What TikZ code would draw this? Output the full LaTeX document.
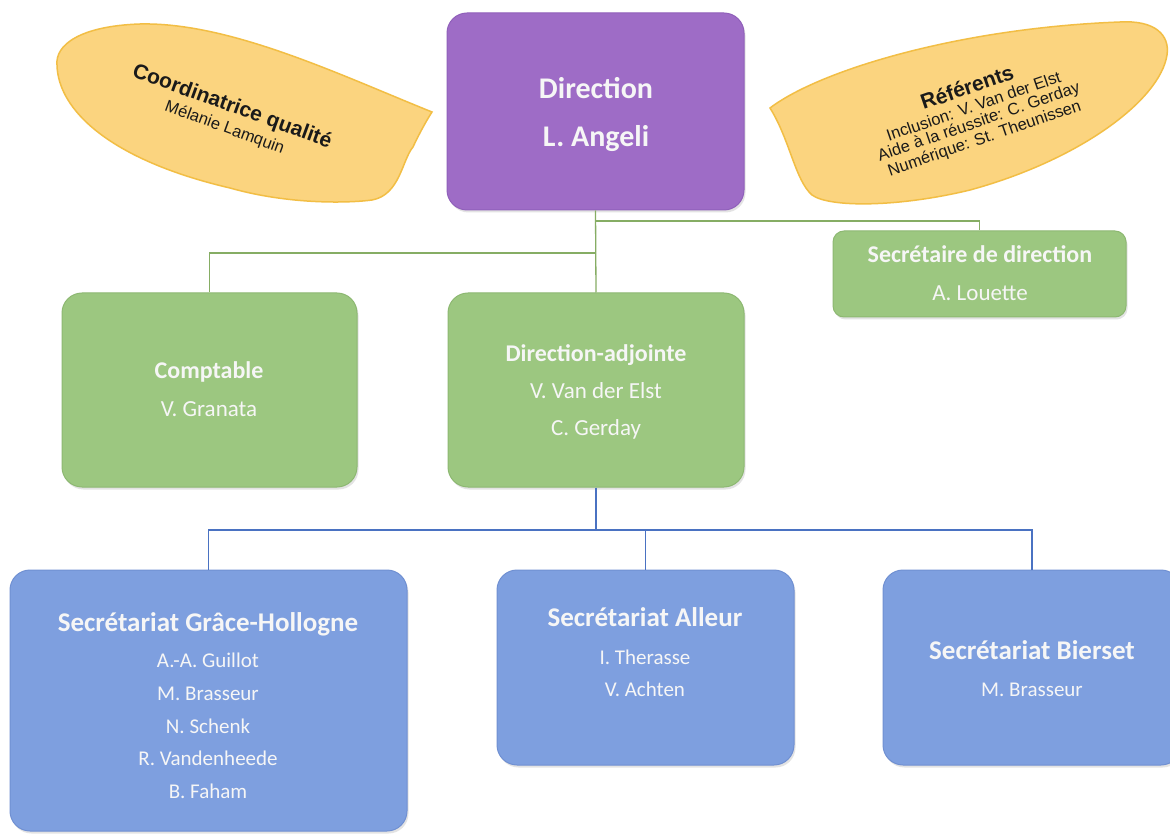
\documentclass[tikz,border=0pt]{standalone}
\usepackage{fontspec}
\setmainfont{Carlito}
\newfontfamily\arialf{Liberation Sans}
\usetikzlibrary{shadows,calc}
\definecolor{purpleF}{HTML}{9E6CC6}
\definecolor{purpleD}{HTML}{9060BA}
\definecolor{greenF}{HTML}{9CC780}
\definecolor{greenD}{HTML}{8DB872}
\definecolor{blueF}{HTML}{7E9FDF}
\definecolor{blueD}{HTML}{7090D2}
\definecolor{leafF}{HTML}{FBD47F}
\definecolor{leafD}{HTML}{F2BE45}
\definecolor{glineC}{HTML}{86AD64}
\definecolor{blineC}{HTML}{4A72C2}
\definecolor{txtW}{HTML}{F6F6F6}
\definecolor{leafT}{HTML}{1A1A1A}
\begin{document}
\begin{tikzpicture}[x=1pt,y=-1pt,
  box/.style={rectangle, rounded corners=20pt, inner sep=0pt, line width=1pt,
    drop shadow={shadow xshift=1.5pt, shadow yshift=-2.5pt, opacity=0.22}},
  purplebox/.style={box, fill=purpleF, draw=purpleD},
  greenbox/.style={box, fill=greenF, draw=greenD},
  bluebox/.style={box, fill=blueF, draw=blueD},
  leaf/.style={fill=leafF, draw=leafD, line width=1.5pt},
  lbl/.style={anchor=base, inner sep=0pt, text=txtW},
  fdir/.style={lbl, font=\fontsize{30}{36}\selectfont\bfseries},
  fgt/.style={lbl, font=\fontsize{24}{29}\selectfont\bfseries},
  fgn/.style={lbl, font=\fontsize{23}{28}\selectfont},
  fbt/.style={lbl, font=\fontsize{27}{32}\selectfont\bfseries},
  fbn/.style={lbl, font=\fontsize{21}{25}\selectfont},
  leaftitle/.style={inner sep=0pt, text=leafT, font=\arialf\fontsize{21}{24}\selectfont\bfseries},
  leaftext/.style={inner sep=0pt, text=leafT, font=\arialf\fontsize{16.5}{19}\selectfont},
  gline/.style={draw=glineC, line width=1.3pt},
  bline/.style={draw=blineC, line width=1.3pt}
]
\useasboundingbox (0,0) rectangle (1170,834);
\fill[white] (0,0) rectangle (1170,834);
\clip (0,0) rectangle (1170,834);

% leaves
\path[leaf] (432,112) .. controls (340,75) and (230,22) .. (140,24)
  .. controls (80,26) and (55,45) .. (57,65)
  .. controls (58,110) and (110,160) .. (230,188)
  .. controls (290,205) and (350,203) .. (372,200)
  .. controls (400,195) and (402,160) .. (413,147)
  .. controls (420,132) and (428,118) .. (432,112) -- cycle;
\path[leaf] (770,108) .. controls (820,70) and (960,28) .. (1120,22)
  .. controls (1155,20) and (1170,35) .. (1167,55)
  .. controls (1160,100) and (1080,160) .. (970,190)
  .. controls (900,207) and (830,208) .. (812,195)
  .. controls (795,180) and (790,140) .. (770,108) -- cycle;

\node[leaftitle, rotate=-20] (cq1) at (232,107) {Coordinatrice qualité};
\node[leaftext, rotate=-20] (cq2) at (224.5,128) {Mélanie Lamquin};
\node[leaftitle, rotate=19] (rf1) at (967,87) {Référents};
\node[leaftext, rotate=19] (rf2) at (973.5,106) {Inclusion: V. Van der Elst};
\node[leaftext, rotate=19] (rf3) at (979,122.5) {Aide à la réussite: C. Gerday};
\node[leaftext, rotate=19] (rf4) at (984.6,139) {Numérique: St. Theunissen};

% boxes
\node[purplebox, minimum width=297pt, minimum height=197pt] (dir) at (595.5,111.5) {};
\node[greenbox, minimum width=295pt, minimum height=194pt] (comp) at (209.5,390) {};
\node[greenbox, minimum width=296pt, minimum height=194pt] (da) at (596,390) {};
\node[greenbox, rounded corners=11pt, minimum width=293pt, minimum height=86pt] (sec) at (979.5,274) {};
\node[bluebox, minimum width=397pt, minimum height=261pt] (gh) at (208.5,700.5) {};
\node[bluebox, minimum width=297pt, minimum height=195pt] (al) at (645.5,667.5) {};
\node[bluebox, minimum width=298pt, minimum height=195pt] (bs) at (1032,667.5) {};

% connectors
\coordinate (jR) at (596,221);
\coordinate (jL) at (596,253);
\coordinate (bj) at (596,530);
\draw[gline] (dir.south) -- (da.north);
\draw[gline] (jR) -| (sec.north);
\draw[gline] (jL) -| (comp.north);
\draw[bline] (da.south) -- (bj);
\draw[bline] (bj) -| (gh.north);
\draw[bline] (bj) -| (al.north);
\draw[bline] (bj) -| (bs.north);

% texts
\node[fdir] (t1) at (596,99) {Direction};
\node[fdir] (t2) at (596,147) {L. Angeli};
\node[fgt] (t3) at (209,378) {Comptable};
\node[fgn] (t4) at (209,416) {V. Granata};
\node[fgt] (t5) at (596,361) {Direction-adjointe};
\node[fgn] (t6) at (596,398) {V. Van der Elst};
\node[fgn] (t7) at (596,435) {C. Gerday};
\node[fgt] (t8) at (980,263) {Secrétaire de direction};
\node[fgn] (t9) at (980,301) {A. Louette};
\node[fbt] (t10) at (208,631) {Secrétariat Grâce-Hollogne};
\node[fbn] (t11) at (208,667) {A.-A. Guillot};
\node[fbn] (t12) at (208,700) {M. Brasseur};
\node[fbn] (t13) at (208,733) {N. Schenk};
\node[fbn] (t14) at (208,765) {R. Vandenheede};
\node[fbn] (t15) at (208,798) {B. Faham};
\node[fbt] (t16) at (645,626) {Secrétariat Alleur};
\node[fbn] (t17) at (645,664) {I. Therasse};
\node[fbn] (t18) at (645,696) {V. Achten};
\node[fbt] (t19) at (1032,659) {Secrétariat Bierset};
\node[fbn] (t20) at (1032,696) {M. Brasseur};
\end{tikzpicture}
\end{document}
